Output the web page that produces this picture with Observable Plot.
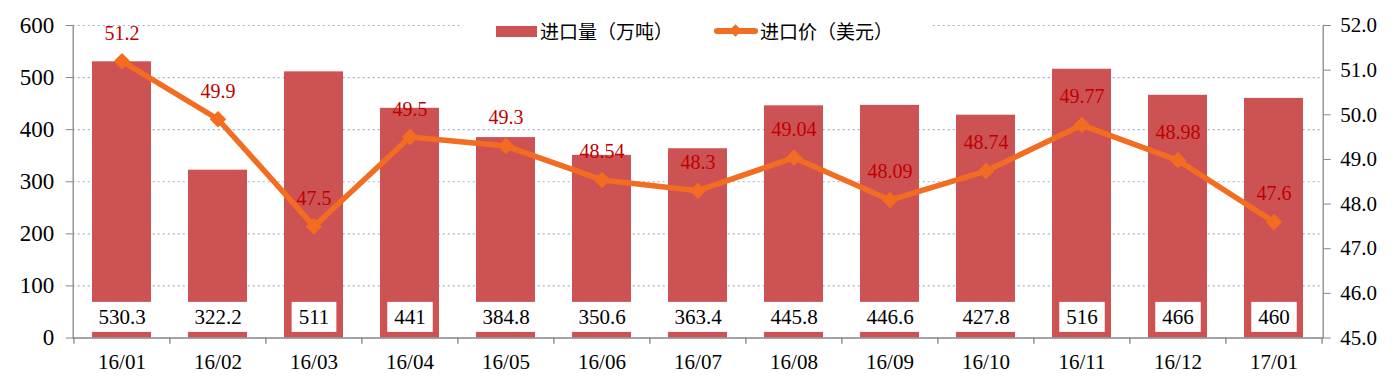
<!DOCTYPE html>
<html>
<head>
<meta charset="utf-8">
<script src="https://cdn.jsdelivr.net/npm/d3@7"></script>
<script src="https://cdn.jsdelivr.net/npm/@observablehq/plot@0.6"></script>
<style>
  html, body { margin: 0; padding: 0; background: #fff; }
  #wrap { position: relative; width: 1396px; height: 389px; }
  #legend { position: absolute; left: 463px; top: 20px; width: 467px; height: 22px; background: #fff;
    font-family: "Noto Sans CJK SC", sans-serif; font-size: 19px; line-height: 22px; color: #000; }
  #legend span { position: absolute; top: 0; white-space: nowrap; }
  .sw-bar { left: 33px; top: 6px !important; width: 41px; height: 11px; background: #cd5254; }
  .sw-line { left: 251px; top: 8px !important; width: 44px; height: 6px; background: #f26d21; border-radius: 3px; }
  .sw-line::after { content: ""; position: absolute; left: 17px; top: -2px; width: 9px; height: 9px; background: #f26d21; transform: rotate(45deg); }
  .lt1 { left: 77px; }
  .lt2 { left: 297px; }
  #chart svg text { font-family: "Liberation Serif", serif !important; }
</style>
</head>
<body>
<div id="wrap">
  <div id="chart"></div>
  <div id="legend"><span class="sw-bar"></span><span class="lt1" id="lt1"></span><span class="sw-line"></span><span class="lt2" id="lt2"></span></div>
</div>
<script>
const months = ["16/01","16/02","16/03","16/04","16/05","16/06","16/07","16/08","16/09","16/10","16/11","16/12","17/01"];
const volume = [530.3, 322.2, 511, 441, 384.8, 350.6, 363.4, 445.8, 446.6, 427.8, 516, 466, 460];
const price = [51.2, 49.9, 47.5, 49.5, 49.3, 48.54, 48.3, 49.04, 48.09, 48.74, 49.77, 48.98, 47.6];
const leftTicks = [0, 100, 200, 300, 400, 500, 600];
const rightTicks = [45, 46, 47, 48, 49, 50, 51, 52];
const volumeName = "进口量（万吨）";
const priceName = "进口价（美元）";

document.getElementById("lt1").textContent = volumeName;
document.getElementById("lt2").textContent = priceName;

const pMin = 45, pMax = 52, vMax = 600;
const toY = p => (p - pMin) / (pMax - pMin) * vMax;

const data = months.map((m, i) => ({month: m, volume: volume[i], price: price[i], py: toY(price[i])}));

const width = 1396, height = 389;
const marginLeft = 72.7, marginRight = 73.3, marginTop = 25, marginBottom = 51.5;
const step = (width - marginLeft - marginRight) / months.length;
const axisColor = "#868686";
const serif = "Liberation Serif";

const chart = Plot.plot({
  width, height, marginLeft, marginRight, marginTop, marginBottom,
  style: {fontFamily: "Liberation Serif, serif", fontSize: "20px", background: "#fff", overflow: "visible"},
  x: {type: "band", domain: months, paddingInner: 0.39, paddingOuter: 0.195, label: null},
  y: {domain: [0, vMax], label: null},
  marks: [
    Plot.gridY(leftTicks.filter(d => d > 0), {stroke: "#9fb3c8", strokeOpacity: 1, strokeDasharray: "2,3", strokeWidth: 1.2}),
    Plot.barY(data, {x: "month", y: "volume", fill: "#cd5254"}),
    Plot.ruleY([0], {stroke: axisColor, strokeWidth: 1.3}),
    Plot.frame({anchor: "left", stroke: axisColor, strokeWidth: 1.3}),
    Plot.frame({anchor: "right", stroke: axisColor, strokeWidth: 1.3}),
    Plot.ruleX(months, {x: d => d, dx: -step / 2, y1: 0, y2: -12, stroke: axisColor, strokeWidth: 1.3}),
    Plot.ruleX([months[months.length - 1]], {x: d => d, dx: step / 2, y1: 0, y2: -12, stroke: axisColor, strokeWidth: 1.3}),
    Plot.axisY(leftTicks, {anchor: "left", tickSize: 7, tickPadding: 12, stroke: axisColor, fill: "#000", fontSize: 23, fontFamily: serif, tickFormat: d => String(d), label: null}),
    Plot.axisY(rightTicks.map(toY), {anchor: "right", tickSize: 7, tickPadding: 10, stroke: axisColor, fill: "#000", fontSize: 21, fontFamily: serif,
      tickFormat: v => (pMin + v / vMax * (pMax - pMin)).toFixed(1), label: null}),
    Plot.axisX({tickSize: 0, tickPadding: 16, fill: "#000", fontSize: 21, fontFamily: serif, label: null}),
    Plot.text(data, {x: "month", y: 40, text: d => String(d.volume), fill: "#000", fontSize: 21, fontFamily: serif, className: "vol-label"}),
    Plot.line(data, {x: "month", y: "py", stroke: "#f26d21", strokeWidth: 5.5, strokeLinejoin: "round", strokeLinecap: "round"}),
    Plot.dot(data, {x: "month", y: "py", symbol: "diamond2", r: 6.5, fill: "#f26d21", stroke: "#f26d21"}),
    Plot.text(data, {x: "month", y: "py", text: d => String(d.price), dy: -28, fill: "#c00000", fontSize: 20, fontFamily: serif})
  ]
});

document.getElementById("chart").appendChild(chart);

// white boxes behind volume labels
d3.select(chart).selectAll("g.vol-label text").each(function() {
  const bb = this.getBBox();
  const h = 30;
  const cy = bb.y + bb.height / 2;
  d3.select(this.parentNode).insert("rect", () => this)
    .attr("x", bb.x - 7).attr("y", cy - h / 2)
    .attr("width", bb.width + 14).attr("height", h)
    .attr("fill", "#fff")
    .attr("transform", this.getAttribute("transform"));
});
</script>
</body>
</html>
